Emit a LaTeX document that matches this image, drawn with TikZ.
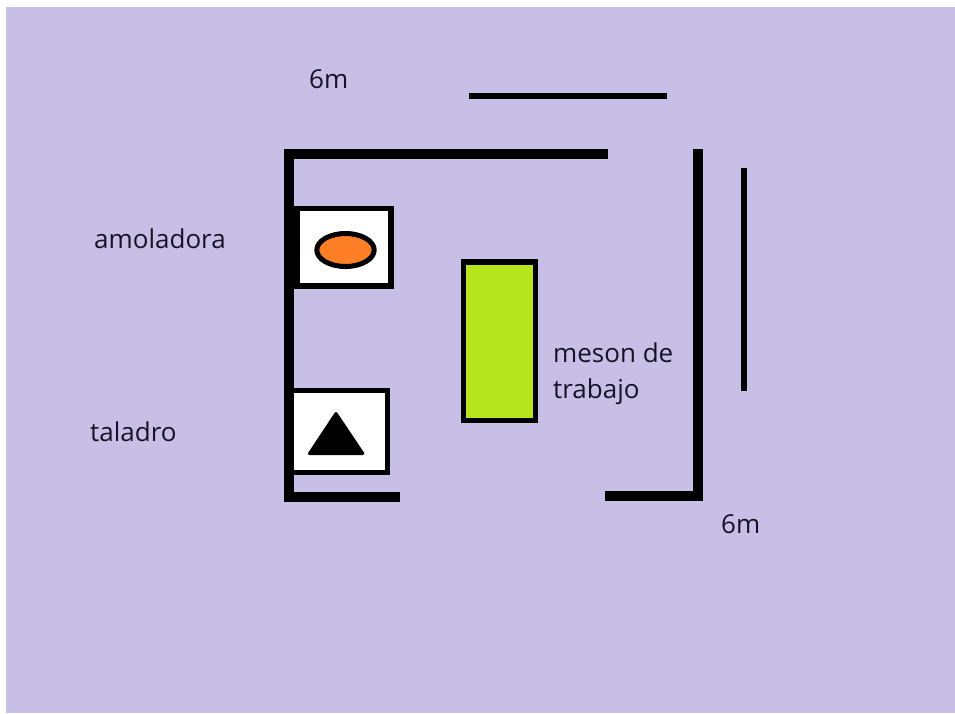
\documentclass[tikz,border=0pt]{standalone}
\usepackage{fontspec}
\setmainfont{Open Sans}
\definecolor{bgc}{HTML}{C8BFE7}
\definecolor{ora}{HTML}{FF7F27}
\definecolor{lime}{HTML}{B5E61D}
\definecolor{ink}{HTML}{141428}
\tikzset{
  wall/.style={line width=10pt,line cap=butt,line join=miter,draw=black},
  dimline/.style={line width=6pt,draw=black},
  whitebox/.style={draw=black,fill=white,line width=5.6pt},
  lbl/.style={text=ink,font=\fontsize{26}{33}\selectfont,inner sep=0pt,anchor=base west,align=left}
}
\begin{document}
\begin{tikzpicture}[x=1pt,y=-1pt]
\useasboundingbox (0,0) rectangle (955,713);
\fill[bgc] (6,7) rectangle (955,713);
% boxes
\draw[whitebox] (297,208.5) rectangle (391,286.2);
\fill[black] (293,205.7) rectangle (299,289);
\draw[whitebox] (291,390.5) rectangle (387.5,472.5);
% walls
\draw[wall] (608,154) -- (289,154) -- (289,496.7) -- (400,496.7);
\draw[wall] (697.7,149) -- (697.7,496) -- (604.7,496);
% machines
\draw[draw=black,fill=ora,line width=5pt] (345.5,250) ellipse [x radius=28.7,y radius=16.5];
\fill[black,draw=black,line width=3pt,line join=round] (336,413.5) -- (309.5,453.5) -- (362.8,453.5) -- cycle;
\draw[draw=black,fill=lime,line width=5.7pt] (463.5,262.2) rectangle (535.5,420.5);
% dimension lines
\draw[dimline] (469,96) -- (667,96);
\draw[dimline] (743.7,168) -- (743.7,391);
% labels
\node[lbl] (dimtop) at (309,88) {6m};
\node[lbl] (dimright) at (721,533) {6m};
\node[lbl] (amol) at (94,248) {amoladora};
\node[lbl] (tala) at (90,441) {taladro};
\node[lbl] (mes1) at (553,362) {meson de};
\node[lbl] (mes2) at (553,398) {trabajo};
\end{tikzpicture}
\end{document}
